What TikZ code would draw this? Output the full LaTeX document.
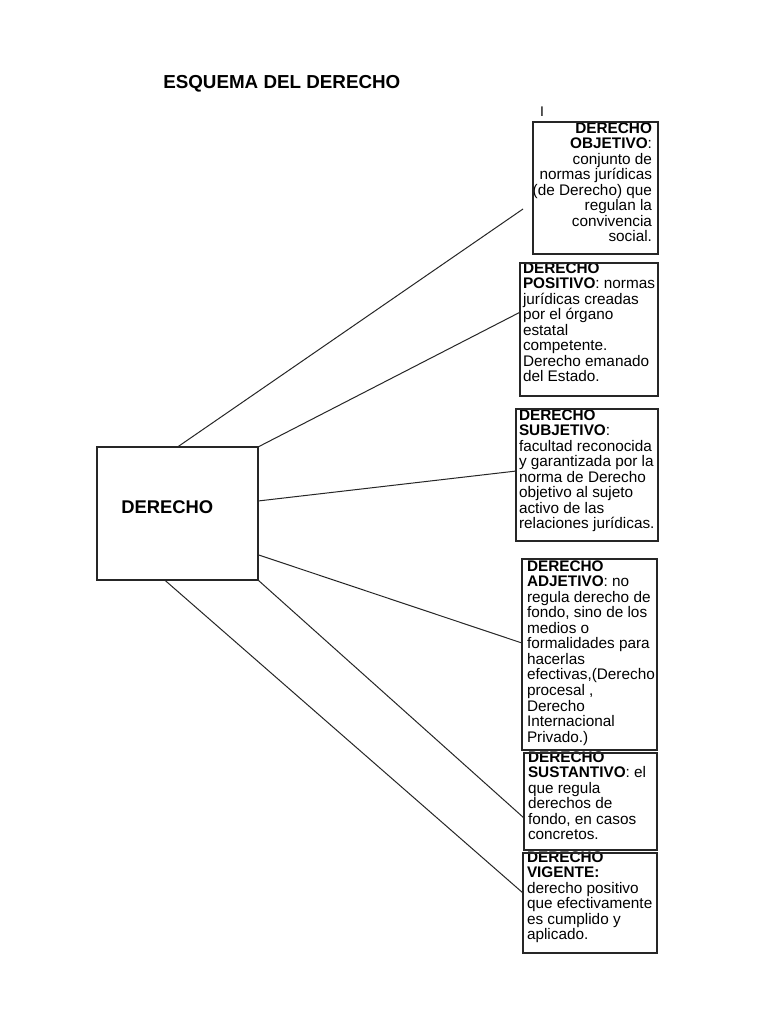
\documentclass[tikz,border=0pt]{standalone}
\usepackage{fontspec}
\setmainfont{Liberation Sans}
\usetikzlibrary{calc}
\newcommand{\myboxfont}{\fontsize{11.5}{11.65}\selectfont\setlength{\lineskiplimit}{-100pt}}
\tikzset{
  box/.style 2 args={draw=black!85, line width=0.95pt, inner sep=0pt, outer sep=0pt,
    anchor=north west, minimum width=#1*0.75pt, minimum height=#2*0.75pt},
  txt/.style={inner sep=0pt, outer sep=0pt, text=black, font=\myboxfont},
  conn/.style={draw=black!85, line width=0.75pt},
}
\begin{document}
\begin{tikzpicture}[x=0.75pt,y=-0.75pt]
\fill[white] (0,0) rectangle (768,1024);
\useasboundingbox (0,0) rectangle (768,1024);

% title
\node[inner sep=0pt, anchor=north west, font=\fontsize{14.1}{16}\selectfont\bfseries] (title) at (163,75.3) {ESQUEMA DEL DERECHO};
\node[inner sep=0pt, font=\fontsize{10.5}{12}\selectfont] (cursor) at (542,112) {I};

% texts
\node[txt, anchor=north east, align=right] (tobj) at (652,122.5)
  {\textbf{DERECHO}\\\textbf{OBJETIVO}:\\conjunto de\\normas jurídicas\\(de Derecho) que\\regulan la\\convivencia\\social.};
\node[txt, anchor=north west, align=left] (tpos) at (523,262.5)
  {\textbf{DERECHO}\\\textbf{POSITIVO}: normas\\jurídicas creadas\\por el órgano\\estatal\\competente.\\Derecho emanado\\del Estado.};
\node[txt, anchor=north west, align=left] (tsub) at (519,409.5)
  {\textbf{DERECHO}\\\textbf{SUBJETIVO}:\\facultad reconocida\\y garantizada por la\\norma de Derecho\\objetivo al sujeto\\activo de las\\relaciones jurídicas.};
\node[txt, anchor=north west, align=left] (tadj) at (527,560.5)
  {\textbf{DERECHO}\\\textbf{ADJETIVO}: no\\regula derecho de\\fondo, sino de los\\medios o\\formalidades para\\hacerlas\\efectivas,(Derecho\\procesal ,\\Derecho\\Internacional\\Privado.)};
\node[txt, anchor=north west, align=left] (tsus) at (528,751.5)
  {\textbf{DERECHO}\\\textbf{SUSTANTIVO}: el\\que regula\\derechos de\\fondo, en casos\\concretos.};
\node[txt, anchor=north west, align=left] (tvig) at (527,851.5)
  {\textbf{DERECHO}\\\textbf{VIGENTE:}\\derecho positivo\\que efectivamente\\es cumplido y\\aplicado.};

% boxes
\node[box={161}{133}] (main) at (97,447) {};
\node[inner sep=0pt, anchor=north west, font=\fontsize{13.8}{16}\selectfont\bfseries] (tmain) at (121,500.4) {DERECHO};
\node[box={125}{132}] (obj) at (533,122) {};
\node[box={138}{133}] (pos) at (520,263) {};
\node[box={142}{132}] (sub) at (516,409) {};
\node[box={135}{191}] (adj) at (522,559) {};
\node[box={133}{97}]  (sus) at (524,753) {};
\node[box={134}{100}] (vig) at (523,853) {};

% connectors
\coordinate (e1) at (523,209);
\draw[conn] (main.north) -- (e1);
\draw[conn] (main.north east) -- ($(pos.north west)!0.37!(pos.south west)$);
\draw[conn] ($(main.north east)!0.406!(main.south east)$) -- ($(sub.north west)!0.47!(sub.south west)$);
\draw[conn] ($(main.north east)!0.81!(main.south east)$) -- ($(adj.north west)!0.44!(adj.south west)$);
\draw[conn] (main.south east) -- ($(sus.north west)!0.67!(sus.south west)$);
\draw[conn] ($(main.south west)!0.42!(main.south east)$) -- ($(vig.north west)!0.4!(vig.south west)$);
\end{tikzpicture}
\end{document}
